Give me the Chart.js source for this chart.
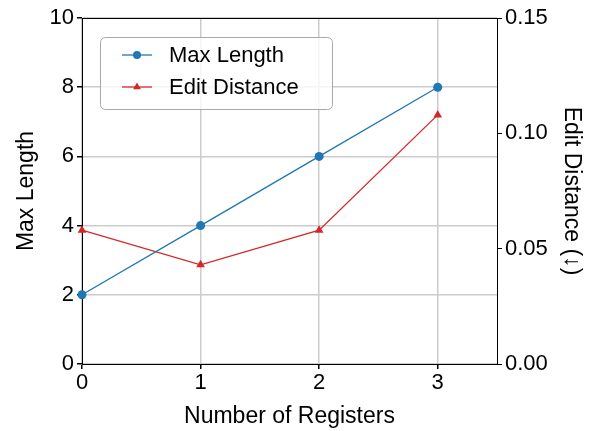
<!DOCTYPE html>
<html>
<head>
<meta charset="utf-8">
<script src="https://cdn.jsdelivr.net/npm/chart.js@4.4.1/dist/chart.umd.min.js"></script>
<style>
  html, body { margin: 0; padding: 0; background: #fff; }
  #wrap { width: 593px; height: 431px; }
</style>
</head>
<body>
<div id="wrap"><canvas id="chart"></canvas></div>
<script>
// data
const registers = [0, 1, 2, 3];
const maxLength = [2, 4, 6, 8];
const editDistance = [0.058, 0.043, 0.058, 0.108];
const xTicks = [0, 1, 2, 3];

const FONT = "'Liberation Sans', Arial, sans-serif";
const BLUE = '#1f77b4';
const RED = '#d62728';

// top spine + legend box drawn by hand, matplotlib style
const framePlugin = {
  id: 'frame',
  afterDraw(chart) {
    const ctx = chart.ctx;
    const a = chart.chartArea;
    ctx.save();
    ctx.strokeStyle = '#000';
    ctx.lineWidth = 1;
    ctx.beginPath();
    ctx.moveTo(a.left, a.top + 0.5);
    ctx.lineTo(a.right, a.top + 0.5);
    ctx.stroke();

    // legend
    const bx = 100, by = 37, bw = 232, bh = 72, r = 5;
    ctx.beginPath();
    ctx.roundRect(bx + 0.5, by + 0.5, bw, bh, r);
    ctx.fillStyle = 'rgba(255,255,255,0.8)';
    ctx.fill();
    ctx.strokeStyle = '#a8a8a8';
    ctx.stroke();

    const rows = [
      { y: 55, color: BLUE, marker: 'circle', text: 'Max Length' },
      { y: 87, color: RED, marker: 'triangle', text: 'Edit Distance' }
    ];
    rows.forEach((row) => {
      ctx.strokeStyle = row.color;
      ctx.fillStyle = row.color;
      ctx.lineWidth = 1.3;
      ctx.beginPath();
      ctx.moveTo(122, row.y);
      ctx.lineTo(152, row.y);
      ctx.stroke();
      Chart.helpers.drawPoint(ctx, { pointStyle: row.marker, radius: row.marker === 'circle' ? 4 : 4.5, borderWidth: 0 }, 137, row.y);
      ctx.fillStyle = '#000';
      ctx.font = '22px ' + FONT;
      ctx.textBaseline = 'middle';
      ctx.textAlign = 'left';
      ctx.fillText(row.text, 169, row.y + 1);
    });
    ctx.restore();
  }
};

new Chart(document.getElementById('chart'), {
  type: 'line',
  data: {
    labels: registers,
    datasets: [{
      label: 'Max Length',
      data: registers.map((r, i) => ({ x: r, y: maxLength[i] })),
      borderColor: BLUE,
      backgroundColor: BLUE,
      borderWidth: 1.3,
      pointStyle: 'circle',
      pointRadius: 4.5,
      pointBorderWidth: 0,
      yAxisID: 'y',
      clip: false
    }, {
      label: 'Edit Distance',
      data: registers.map((r, i) => ({ x: r, y: editDistance[i] })),
      borderColor: RED,
      backgroundColor: RED,
      borderWidth: 1.3,
      pointStyle: 'triangle',
      pointRadius: 5,
      pointBorderWidth: 0,
      yAxisID: 'y1',
      clip: false
    }]
  },
  options: {
    responsive: true,
    maintainAspectRatio: false,
    animation: false,
    layout: { padding: { top: 18 } },
    plugins: {
      legend: { display: false },
      tooltip: { enabled: false }
    },
    scales: {
      x: {
        type: 'linear',
        min: 0,
        max: 3.5,
        afterBuildTicks: (scale) => { scale.ticks = xTicks.map(v => ({ value: v })); },
        afterFit: (scale) => { scale.height = 67; },
        grid: { color: '#cccccc', tickColor: '#000', tickLength: 5, lineWidth: 1.5 },
        border: { color: '#000', width: 1 },
        ticks: { color: '#000', font: { family: FONT, size: 22 }, padding: 1, maxRotation: 0 },
        title: { display: true, text: 'Number of Registers', color: '#000', font: { family: FONT, size: 23 }, padding: { top: 0, bottom: 1 } }
      },
      y: {
        position: 'left',
        min: 0,
        max: 10,
        ticks: { stepSize: 2, color: '#000', font: { family: FONT, size: 22 }, padding: 3 },
        afterFit: (scale) => { scale.width = 82; },
        grid: { color: '#cccccc', tickColor: '#000', tickLength: 5, lineWidth: 1.5 },
        border: { color: '#000', width: 1 },
        title: { display: true, text: 'Max Length', color: '#000', font: { family: FONT, size: 23 }, padding: { top: 13, bottom: 0 } }
      },
      y1: {
        position: 'right',
        min: 0,
        max: 0.15,
        ticks: { stepSize: 0.05, color: '#000', font: { family: FONT, size: 22 }, padding: 3, callback: (v) => v.toFixed(2) },
        afterFit: (scale) => { scale.width = 96; },
        grid: { drawOnChartArea: false, tickColor: '#000', tickLength: 5 },
        border: { color: '#000', width: 1 },
        title: { display: true, text: 'Edit Distance (↓)', color: '#000', font: { family: FONT, size: 23 }, padding: { top: 8, bottom: 0 } }
      }
    }
  },
  plugins: [framePlugin]
});
</script>
</body>
</html>
